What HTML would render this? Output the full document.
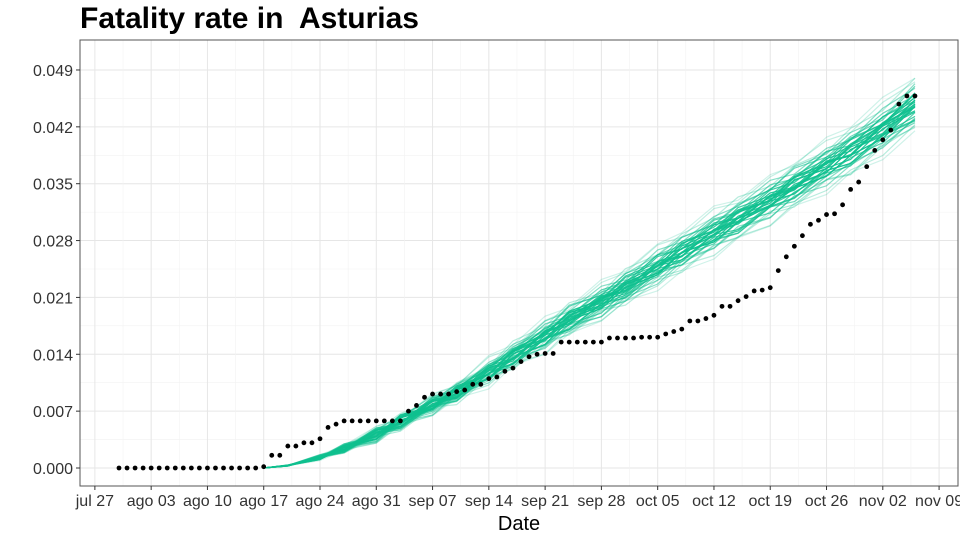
<!DOCTYPE html>
<html><head><meta charset="utf-8"><style>
body{margin:0;background:#fff;}
svg{display:block;font-family:"Liberation Sans",sans-serif;}
</style></head><body>
<svg id="chart" width="960" height="540" viewBox="0 0 960 540">
<text x="80" y="28" font-size="30" font-weight="bold" fill="#000">Fatality rate in&#160; Asturias</text>
<g id="grid"></g>
<g id="sims"></g>
<g id="dots"></g>
<rect x="80" y="40" width="878" height="446" fill="none" stroke="#555" stroke-width="1"/>
<g id="axes"></g>
<text x="519" y="530" font-size="20" text-anchor="middle" fill="#000">Date</text>
</svg>
<script>
// observed fatality rate, one value per day starting jul 30
const observed = [0,0,0,0,0,0,0,0,0,0,0,0,0,0,0,0,0,0,
0.00016,0.00156,0.00156,0.0027,0.0027,0.0031,0.0031,0.0036,0.005,0.0054,
0.0058,0.0058,0.0058,0.0058,0.0058,0.0058,0.0058,0.0058,
0.0070,0.0077,0.0087,0.0091,0.0091,0.0091,0.0094,0.0096,0.0103,0.0103,
0.0110,0.0112,0.0119,0.0123,0.0131,0.0137,0.0140,0.0141,0.0141,
0.0155,0.0155,0.0155,0.0155,0.0155,0.0155,0.0160,0.0160,0.0160,0.0160,
0.0161,0.0161,0.0161,0.0165,0.0168,0.0171,0.0181,0.0181,0.0184,0.0188,
0.0199,0.0199,0.0206,0.0211,0.0218,0.0219,0.0222,0.0243,0.0260,0.0273,0.0286,0.0300,
0.0305,0.0312,0.0313,0.0324,0.0343,0.0352,0.0371,0.0391,0.0404,0.0416,0.0448,0.0458,0.0458];
// simulation median, sampled on these day indices
const simDays = [18,21,25,28,32,35,39,42,46,49,53,56,60,63,67,70,74,77,81,84,88,91,95,99];
const simMedian = [0,0.0003,0.0013,0.0024,0.0041,0.0057,0.0078,0.0093,0.0118,0.0138,0.0163,0.0183,0.0205,0.0223,0.0248,0.0266,0.0290,0.0307,0.0330,0.0348,0.0372,0.0390,0.0418,0.0448];
// relative spread of the simulation band at each sampled day
const simSpread = [2.2,2.2,2.1,2.0,1.9,1.8,1.7,1.6,1.55,1.5,1.45,1.4,1.35,1.3,1.25,1.2,1.15,1.12,1.1,1.08,1.05,1.03,1.0,1.0];
// per-run scale factors
const runScale = [0.92,0.94,0.95,0.96,0.97,0.975,0.98,0.985,0.99,0.995,1.0,1.0,1.005,1.01,1.015,1.02,1.025,1.03,1.04,1.05,1.06,1.08,0.93,0.965,0.99,1.0,1.01,1.035,0.955,1.07,0.98,1.0,1.02,0.97,1.045,0.945];
const runOpacity = [0.2,0.3,0.5,0.6,0.7,0.8,0.8,0.9,0.9,0.9,0.9,0.9,0.9,0.9,0.9,0.8,0.8,0.7,0.6,0.5,0.3,0.2,0.3,0.7,0.9,0.9,0.9,0.6,0.5,0.25,0.9,0.9,0.8,0.8,0.5,0.35];
const runWobble = [0,0.0004,-0.0005,0.0003,-0.0004,0.0006,-0.0003,0.0005,-0.0006,0.0005,-0.0004,0.0003,-0.0002,0.0006,-0.0005,0.0002,-0.0006,0.0004,-0.0003,0.0005,-0.0004,0.0006,-0.0005,0.0003];
const yTicks = [0,0.007,0.014,0.021,0.028,0.035,0.042,0.049];
const yTickLabels = ["0.000","0.007","0.014","0.021","0.028","0.035","0.042","0.049"];
const xTickDays = [-3,4,11,18,25,32,39,46,53,60,67,74,81,88,95,102];
const xTickLabels = ["jul 27","ago 03","ago 10","ago 17","ago 24","ago 31","sep 07","sep 14","sep 21","sep 28","oct 05","oct 12","oct 19","oct 26","nov 02","nov 09"];

const NS="http://www.w3.org/2000/svg";
const X0=119, DX=8.04, Y0=468, PY=56.86/0.007;
const xs=d=>X0+d*DX, ys=v=>Y0-v*PY;
function mk(tag,attrs,parent){const e=document.createElementNS(NS,tag);for(const k in attrs)e.setAttribute(k,attrs[k]);parent.appendChild(e);return e;}
const grid=document.getElementById('grid'),axes=document.getElementById('axes');
yTicks.forEach((t,i)=>{
  if(i<yTicks.length-1){const m=mk('line',{x1:80,x2:958,y1:ys(t+0.0035),y2:ys(t+0.0035),stroke:'#f2f2f2','stroke-width':0.6},grid);
    }
  const g=mk('line',{x1:80,x2:958,y1:ys(t),y2:ys(t),stroke:'#e6e6e6','stroke-width':1},grid);
  
  const tk=mk('line',{x1:76,x2:80,y1:ys(t),y2:ys(t),stroke:'#333'},axes);
  
  const tx=mk('text',{x:73,y:ys(t)+6,'font-size':16,'text-anchor':'end',fill:'#333'},axes);
  tx.textContent=yTickLabels[i];
  
});
xTickDays.forEach((d,i)=>{
  if(i<xTickDays.length-1){const m=mk('line',{x1:xs(d+3.5),x2:xs(d+3.5),y1:40,y2:486,stroke:'#f2f2f2','stroke-width':0.6},grid);
    }
  const g=mk('line',{x1:xs(d),x2:xs(d),y1:40,y2:486,stroke:'#e6e6e6','stroke-width':1},grid);
  
  const tk=mk('line',{x1:xs(d),x2:xs(d),y1:486,y2:490,stroke:'#333'},axes);
  
  const tx=mk('text',{x:xs(d),y:506,'font-size':16,'text-anchor':'middle',fill:'#333'},axes);
  tx.textContent=xTickLabels[i];
  
});
const sims=document.getElementById('sims');
runScale.forEach((s,r)=>{
  const pts=simDays.map((d,i)=>{
    const f=1+(s-1)*simSpread[i];
    const w=runWobble[(i+r)%runWobble.length]*Math.min(1,simMedian[i]/0.004);
    return xs(d).toFixed(1)+','+ys(simMedian[i]*f+w).toFixed(1);}).join(' ');
  const p=mk('polyline',{points:pts,fill:'none',stroke:'#0fc08f','stroke-width':1.2,'stroke-opacity':runOpacity[r],'stroke-linejoin':'round'},sims);
  
});
const dots=document.getElementById('dots');
observed.forEach((v,i)=>{
  const c=mk('circle',{cx:xs(i),cy:ys(v),r:2.4,fill:'#000'},dots);
  
});
</script>
</body></html>
